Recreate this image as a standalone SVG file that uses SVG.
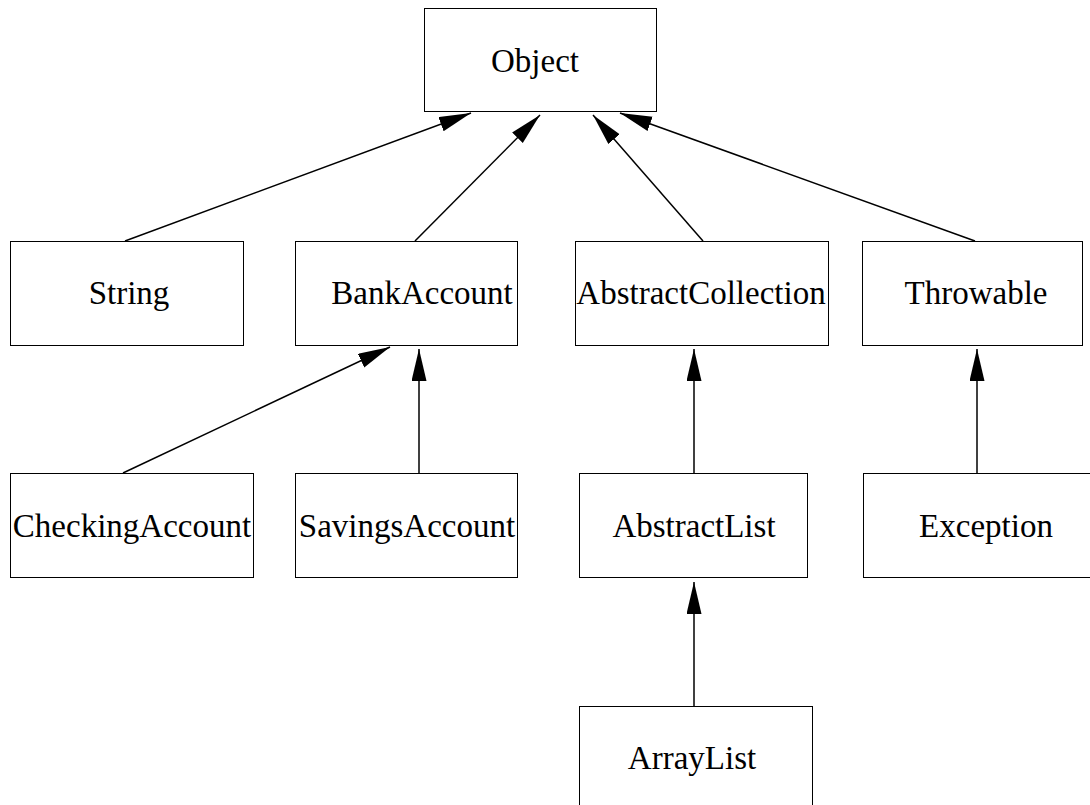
<svg xmlns="http://www.w3.org/2000/svg" width="1090" height="805" viewBox="0 0 1090 805">
<style>
.box{fill:#fff;stroke:#000;stroke-width:1}
.lbl{font-family:"Liberation Serif","Times New Roman",serif;font-size:33px;text-anchor:middle;fill:#000}
.edge{stroke:#000;stroke-width:1.5;fill:none;marker-end:url(#arr)}
</style>
<defs>
<marker id="arr" markerUnits="userSpaceOnUse" markerWidth="34" markerHeight="17" refX="32" refY="7.5" orient="auto">
<path d="M0,0 L32,7.5 L0,15 z" fill="#000"/>
</marker>
</defs>
<rect width="1090" height="805" fill="#fff"/>
<g id="connectors">
<line class="edge" x1="125" y1="241" x2="471" y2="113"/>
<line class="edge" x1="415" y1="241" x2="540" y2="115"/>
<line class="edge" x1="703" y1="241" x2="593" y2="115"/>
<line class="edge" x1="975" y1="241" x2="620" y2="113"/>
<line class="edge" x1="123" y1="473" x2="390" y2="347"/>
<line class="edge" x1="419" y1="473" x2="419" y2="349"/>
<line class="edge" x1="694" y1="473" x2="694" y2="349"/>
<line class="edge" x1="977" y1="473" x2="977" y2="349"/>
<line class="edge" x1="694" y1="706" x2="694" y2="582"/>
</g>
<g id="Object"><rect class="box" x="424.5" y="8.5" width="232" height="103"/><text class="lbl" x="535" y="72">Object</text></g>
<g id="String"><rect class="box" x="10.5" y="241.5" width="233" height="104"/><text class="lbl" x="129" y="304">String</text></g>
<g id="BankAccount"><rect class="box" x="295.5" y="241.5" width="222" height="104"/><text class="lbl" x="422" y="304">BankAccount</text></g>
<g id="AbstractCollection"><rect class="box" x="575.5" y="241.5" width="253" height="104"/><text class="lbl" x="701" y="304">AbstractCollection</text></g>
<g id="Throwable"><rect class="box" x="862.5" y="241.5" width="220" height="104"/><text class="lbl" x="976" y="304">Throwable</text></g>
<g id="CheckingAccount"><rect class="box" x="10.5" y="473.5" width="243" height="104"/><text class="lbl" x="132" y="537">CheckingAccount</text></g>
<g id="SavingsAccount"><rect class="box" x="295.5" y="473.5" width="222" height="104"/><text class="lbl" x="407" y="537">SavingsAccount</text></g>
<g id="AbstractList"><rect class="box" x="579.5" y="473.5" width="228" height="104"/><text class="lbl" x="694" y="537">AbstractList</text></g>
<g id="Exception"><rect class="box" x="863.5" y="473.5" width="227" height="104"/><text class="lbl" x="986" y="537">Exception</text></g>
<g id="ArrayList"><rect class="box" x="579.5" y="706.5" width="233" height="104"/><text class="lbl" x="692" y="769">ArrayList</text></g>
</svg>
